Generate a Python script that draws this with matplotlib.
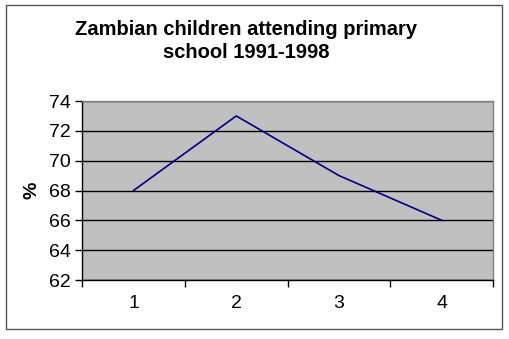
import matplotlib.pyplot as plt
from matplotlib.patches import Rectangle

# share of children attending primary school, per survey
periods = [1, 2, 3, 4]
attending = [68, 73, 69, 66]
y_ticks = [62, 64, 66, 68, 70, 72, 74]

plt.rcParams['font.family'] = ['Liberation Sans', 'DejaVu Sans']

fig = plt.figure(figsize=(5.1, 3.39), dpi=100)
fig.patch.set_facecolor('white')
fig.patches.append(Rectangle((0.012, 0.029), 0.972, 0.956, transform=fig.transFigure,
                             fill=False, edgecolor='#555555', linewidth=1.0))

ax = fig.add_axes([0.161, 0.174, 0.806, 0.528])
ax.set_facecolor('#c0c0c0')
ax.plot(periods, attending, color='#000080', linewidth=1.2)

ax.set_xlim(0.5, 4.5)
ax.set_ylim(62, 74)
ax.set_yticks(y_ticks)
ax.set_yticklabels([str(v) for v in y_ticks], fontsize=14)
ax.set_xticks([0.5, 1.5, 2.5, 3.5, 4.5])
ax.set_xticklabels([])
ax.set_xticks(periods, minor=True)
ax.set_xticklabels([str(p) for p in periods], minor=True, fontsize=14)
ax.tick_params(axis='x', which='minor', length=0, pad=11)
ax.tick_params(axis='x', which='major', length=5, width=1, color='black')
ax.tick_params(axis='y', length=5, width=1, color='black', pad=3)

ax.grid(axis='y', color='black', linewidth=1)
ax.set_axisbelow(True)
for side in ['left', 'bottom']:
    ax.spines[side].set_color('black')
    ax.spines[side].set_linewidth(1)
for side in ['top', 'right']:
    ax.spines[side].set_color('#808080')
    ax.spines[side].set_linewidth(1)

ax.set_ylabel('%', fontsize=14, fontweight='bold', labelpad=6)
fig.text(0.483, 0.94, 'Zambian children attending primary\nschool 1991-1998',
         ha='center', va='top', fontsize=14.5, fontweight='bold', linespacing=1.25)

fig.savefig('out.png', dpi=100)
